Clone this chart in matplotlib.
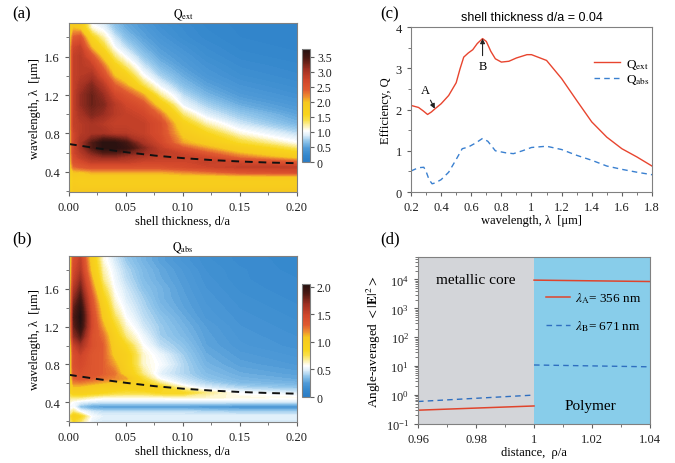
import numpy as np
import matplotlib
matplotlib.use('Agg')
import matplotlib.pyplot as plt
from matplotlib.colors import LinearSegmentedColormap, Normalize
from matplotlib.cm import ScalarMappable
from matplotlib.ticker import MultipleLocator, FuncFormatter

plt.rcParams['font.family'] = ['Liberation Serif', 'DejaVu Serif']
plt.rcParams['mathtext.fontset'] = 'stix'
plt.rcParams['font.size'] = 9
plt.rcParams['axes.edgecolor'] = '#808080'
plt.rcParams['xtick.color'] = '#606060'
plt.rcParams['ytick.color'] = '#606060'
plt.rcParams['xtick.labelcolor'] = '#202020'
plt.rcParams['ytick.labelcolor'] = '#202020'

# ---- maps (a), (b): values read on a coarse grid ----
d_nodes = [0.0, 0.004, 0.01, 0.02, 0.03, 0.04, 0.05, 0.065, 0.08, 0.10, 0.12, 0.15, 0.20]
lam_nodes = [0.18, 0.25, 0.30, 0.35, 0.40, 0.45, 0.50, 0.55, 0.60, 0.65, 0.70, 0.80,
             0.90, 1.00, 1.10, 1.20, 1.30, 1.40, 1.50, 1.60, 1.70, 1.80, 1.90, 2.00]

qext_map = [
    [1.6, 2.0, 2.0, 2.0, 2.0, 2.0, 2.0, 2.0, 2.0, 2.0, 2.0, 2.0, 2.0],
    [1.5, 1.9, 1.85, 1.85, 1.85, 1.85, 1.85, 1.85, 1.85, 1.85, 1.85, 1.85, 1.85],
    [1.4, 1.85, 1.8, 1.8, 1.8, 1.8, 1.8, 1.8, 1.8, 1.8, 1.8, 1.8, 1.8],
    [1.5, 1.9, 1.85, 1.9, 1.9, 1.9, 1.9, 1.9, 1.9, 1.9, 1.9, 1.95, 1.95],
    [1.6, 2.0, 2.0, 2.1, 2.1, 2.1, 2.1, 2.1, 2.1, 2.2, 2.3, 2.5, 2.6],
    [1.7, 2.3, 2.4, 2.5, 2.5, 2.5, 2.5, 2.5, 2.5, 2.6, 2.7, 2.8, 2.8],
    [1.7, 2.5, 2.6, 2.8, 2.8, 2.8, 2.8, 2.7, 2.7, 2.7, 2.8, 2.7, 2.4],
    [1.7, 2.6, 2.8, 3.0, 3.1, 3.1, 3.0, 2.9, 2.8, 2.8, 2.7, 2.3, 1.9],
    [1.7, 2.7, 2.9, 3.2, 3.4, 3.4, 3.3, 3.1, 2.9, 2.7, 2.4, 2.0, 1.6],
    [1.7, 2.7, 3.0, 3.4, 3.7, 3.7, 3.6, 3.2, 2.8, 2.4, 2.1, 1.8, 1.3],
    [1.7, 2.7, 3.0, 3.4, 3.7, 3.7, 3.5, 3.0, 2.7, 2.1, 1.9, 1.5, 1.05],
    [1.7, 2.7, 2.9, 3.0, 3.0, 2.9, 2.9, 2.8, 2.6, 1.9, 1.6, 1.1, 0.8],
    [1.7, 2.8, 2.9, 3.0, 2.9, 2.8, 2.8, 2.8, 2.6, 1.7, 1.2, 0.85, 0.6],
    [1.7, 2.8, 3.0, 3.2, 3.1, 2.9, 2.8, 2.7, 2.3, 1.3, 0.9, 0.7, 0.5],
    [1.7, 2.8, 3.1, 3.3, 3.2, 2.9, 2.7, 2.5, 1.8, 0.95, 0.75, 0.55, 0.42],
    [1.7, 2.8, 3.1, 3.3, 3.1, 2.7, 2.5, 2.1, 1.25, 0.8, 0.6, 0.45, 0.35],
    [1.7, 2.8, 3.0, 3.2, 2.9, 2.4, 2.1, 1.4, 0.95, 0.65, 0.5, 0.38, 0.3],
    [1.7, 2.8, 2.9, 3.0, 2.6, 2.0, 1.7, 1.05, 0.75, 0.55, 0.42, 0.32, 0.26],
    [1.7, 2.8, 2.9, 2.8, 2.3, 1.7, 1.3, 0.85, 0.62, 0.47, 0.37, 0.28, 0.23],
    [1.7, 2.8, 2.9, 2.5, 1.9, 1.3, 1.0, 0.7, 0.52, 0.42, 0.32, 0.24, 0.2],
    [1.7, 2.7, 2.8, 2.0, 1.5, 1.0, 0.8, 0.58, 0.46, 0.36, 0.28, 0.21, 0.18],
    [1.7, 2.4, 2.5, 1.6, 1.2, 0.85, 0.65, 0.5, 0.4, 0.3, 0.24, 0.19, 0.17],
    [1.7, 2.0, 1.9, 1.1, 0.95, 0.7, 0.55, 0.45, 0.35, 0.28, 0.22, 0.18, 0.16],
    [1.7, 1.8, 1.8, 0.9, 0.8, 0.6, 0.5, 0.4, 0.3, 0.25, 0.2, 0.18, 0.15],
]

qabs_map = [
    [0.6, 0.8, 0.7, 0.5, 0.47, 0.47, 0.47, 0.47, 0.47, 0.47, 0.47, 0.47, 0.47],
    [0.7, 0.95, 0.85, 0.55, 0.5, 0.5, 0.5, 0.5, 0.5, 0.5, 0.5, 0.5, 0.5],
    [0.6, 0.7, 0.55, 0.47, 0.44, 0.44, 0.44, 0.44, 0.44, 0.44, 0.42, 0.4, 0.4],
    [0.55, 0.55, 0.36, 0.27, 0.25, 0.25, 0.25, 0.25, 0.25, 0.25, 0.23, 0.21, 0.21],
    [0.6, 0.55, 0.5, 0.47, 0.46, 0.46, 0.46, 0.46, 0.46, 0.46, 0.46, 0.46, 0.46],
    [0.7, 0.7, 0.7, 0.64, 0.6, 0.6, 0.6, 0.6, 0.6, 0.62, 0.62, 0.6, 0.58],
    [0.8, 0.95, 0.95, 0.9, 0.85, 0.8, 0.78, 0.78, 0.85, 0.85, 0.7, 0.55, 0.48],
    [0.8, 1.05, 1.05, 1.0, 0.95, 0.95, 0.9, 0.95, 0.9, 0.65, 0.5, 0.42, 0.38],
    [0.8, 1.2, 1.2, 1.15, 1.1, 1.05, 1.0, 0.9, 0.7, 0.5, 0.42, 0.35, 0.32],
    [0.8, 1.3, 1.35, 1.3, 1.25, 1.2, 1.15, 0.8, 0.55, 0.45, 0.37, 0.32, 0.29],
    [0.8, 1.35, 1.4, 1.35, 1.3, 1.25, 1.0, 0.7, 0.5, 0.42, 0.35, 0.3, 0.27],
    [0.8, 1.4, 1.45, 1.35, 1.3, 1.15, 0.95, 0.62, 0.55, 0.42, 0.32, 0.27, 0.24],
    [0.8, 1.4, 1.5, 1.35, 1.3, 1.05, 0.95, 0.62, 0.52, 0.4, 0.3, 0.25, 0.22],
    [0.8, 1.5, 1.65, 1.4, 1.3, 1.0, 0.85, 0.57, 0.44, 0.37, 0.28, 0.23, 0.2],
    [0.8, 1.7, 1.85, 1.4, 1.25, 0.95, 0.7, 0.52, 0.4, 0.34, 0.27, 0.22, 0.19],
    [0.8, 1.8, 2.0, 1.45, 1.15, 0.85, 0.62, 0.47, 0.39, 0.32, 0.26, 0.21, 0.18],
    [0.8, 1.85, 2.05, 1.45, 1.05, 0.75, 0.56, 0.44, 0.37, 0.3, 0.24, 0.2, 0.17],
    [0.8, 1.8, 2.0, 1.4, 1.0, 0.66, 0.52, 0.42, 0.34, 0.28, 0.23, 0.19, 0.16],
    [0.8, 1.7, 1.9, 1.35, 0.9, 0.6, 0.49, 0.4, 0.32, 0.27, 0.22, 0.18, 0.15],
    [0.8, 1.6, 1.8, 1.25, 0.8, 0.56, 0.47, 0.37, 0.32, 0.26, 0.21, 0.17, 0.14],
    [0.8, 1.5, 1.7, 1.15, 0.7, 0.53, 0.44, 0.35, 0.3, 0.25, 0.2, 0.16, 0.14],
    [0.8, 1.45, 1.6, 1.05, 0.65, 0.51, 0.42, 0.34, 0.29, 0.24, 0.19, 0.16, 0.13],
    [0.8, 1.4, 1.55, 1.0, 0.6, 0.48, 0.39, 0.32, 0.27, 0.22, 0.18, 0.15, 0.13],
    [0.8, 1.4, 1.5, 0.95, 0.6, 0.46, 0.37, 0.32, 0.27, 0.22, 0.17, 0.15, 0.12],
]

# dashed resonance line in (a) and (b)
dash_d = [0.0, 0.025, 0.05, 0.075, 0.10, 0.125, 0.15, 0.175, 0.20]
dash_lam = [0.69, 0.645, 0.605, 0.57, 0.543, 0.523, 0.508, 0.497, 0.49]

# ---- panel (c) ----
lam_ext = [0.2, 0.25, 0.28, 0.31, 0.335, 0.36, 0.4, 0.45, 0.5, 0.525, 0.55, 0.58, 0.61,
           0.64, 0.675, 0.7, 0.73, 0.76, 0.8, 0.85, 0.9, 0.97, 1.0, 1.1, 1.2, 1.3, 1.4,
           1.5, 1.6, 1.7, 1.8]
q_ext = [2.10, 2.05, 1.97, 1.88, 1.94, 2.02, 2.14, 2.34, 2.65, 2.98, 3.27, 3.37, 3.45,
         3.60, 3.72, 3.65, 3.41, 3.23, 3.15, 3.17, 3.25, 3.33, 3.33, 3.19, 2.75, 2.22, 1.70,
         1.33, 1.05, 0.85, 0.63]
lam_abs = [0.2, 0.25, 0.285, 0.3, 0.32, 0.34, 0.36, 0.4, 0.45, 0.5, 0.54, 0.58, 0.63,
           0.675, 0.71, 0.76, 0.83, 0.88, 0.94, 1.0, 1.1, 1.2, 1.3, 1.4, 1.5, 1.6, 1.7, 1.8]
q_abs = [0.51, 0.59, 0.60, 0.50, 0.30, 0.20, 0.22, 0.30, 0.48, 0.79, 1.05, 1.09, 1.19,
         1.30, 1.23, 1.00, 0.95, 0.93, 1.00, 1.08, 1.11, 1.03, 0.89, 0.77, 0.63, 0.55, 0.48, 0.42]

# ---- panel (d) ----
rho_core = [0.96, 1.0]
rho_poly = [1.0, 1.04]
ea_core = [0.30, 0.42]
ea_poly = [9500, 8500]
eb_core = [0.60, 1.0]
eb_poly = [11.0, 9.5]

cmap = LinearSegmentedColormap.from_list('qmap', [
    (0.0, '#2a7cc6'), (0.06, '#3588cd'), (0.12, '#4f9ad7'), (0.18, '#8ec4ea'),
    (0.235, '#ddeef9'), (0.275, '#ffffff'), (0.31, '#fdf4c0'), (0.37, '#f9e04a'),
    (0.42, '#f8d51c'), (0.53, '#f6c81e'), (0.58, '#ee8c30'), (0.64, '#e05a30'),
    (0.72, '#d2472b'), (0.82, '#a03022'), (0.92, '#4a1812'), (1.0, '#241010')])

fig = plt.figure(figsize=(6.75, 4.64), dpi=100)

D, L = np.meshgrid(d_nodes, lam_nodes)


def heat_panel(rect, crect, z, vmax, cticks, ctlabels, title):
    ax = fig.add_axes(rect)
    levels = np.linspace(0, vmax + 0.02, 120)
    ax.contourf(D, L, np.array(z), levels=levels, cmap=cmap, vmin=0, vmax=vmax,
                antialiased=False)
    ax.plot(dash_d, dash_lam, color='#111111', lw=1.4, ls=(0, (4, 3)))
    ax.set_xlim(0, 0.2)
    ax.set_ylim(0.19, 1.95)
    ax.set_xticks([0, 0.05, 0.1, 0.15, 0.2])
    ax.xaxis.set_major_formatter(FuncFormatter(lambda v, p: '%.2f' % v))
    ax.xaxis.set_minor_locator(MultipleLocator(0.025))
    ax.set_yticks([0.4, 0.8, 1.2, 1.6])
    ax.yaxis.set_minor_locator(MultipleLocator(0.2))
    ax.tick_params(which='major', length=3, labelsize=9)
    ax.tick_params(which='minor', length=2)
    ax.set_xlabel('shell thickness, d/a', fontsize=9, labelpad=1)
    ax.set_ylabel('wavelength, λ  [μm]', fontsize=9, labelpad=2)
    ax.set_title(title, fontsize=8.5, pad=4)
    cax = fig.add_axes(crect)
    sm = ScalarMappable(norm=Normalize(0, vmax), cmap=cmap)
    cb = fig.colorbar(sm, cax=cax, ticks=cticks)
    cb.ax.set_yticklabels(ctlabels)
    cb.ax.tick_params(length=3, labelsize=8.5, pad=2)
    cb.outline.set_edgecolor('#808080')
    return ax


heat_panel([0.1022, 0.584, 0.3378, 0.3642], [0.4474, 0.6487, 0.0119, 0.2435],
           qext_map, 3.75, [0, 0.5, 1, 1.5, 2, 2.5, 3, 3.5],
           ['0', '0.5', '1.0', '1.5', '2.0', '2.5', '3.0', '3.5'],
           r'$\mathrm{Q}_{\mathrm{ext}}$')
heat_panel([0.1022, 0.0884, 0.3378, 0.3578], [0.4474, 0.1422, 0.0119, 0.2435],
           qabs_map, 2.05, [0, 0.5, 1, 1.5, 2],
           ['0', '0.5', '1.0', '1.5', '2.0'],
           r'$\mathrm{Q}_{\mathrm{abs}}$')

# ---- (c) ----
axc = fig.add_axes([0.6089, 0.584, 0.357, 0.3556])
axc.plot(lam_ext, q_ext, color='#e8452f', lw=1.0, label=r'Q$_{\rm ext}$')
axc.plot(lam_abs, q_abs, color='#3a80d0', lw=1.0, ls=(0, (4, 3)), label=r'Q$_{\rm abs}$')
axc.set_xlim(0.2, 1.8)
axc.set_ylim(0, 4)
axc.xaxis.set_major_locator(MultipleLocator(0.2))
axc.xaxis.set_minor_locator(MultipleLocator(0.1))
axc.xaxis.set_major_formatter(FuncFormatter(lambda v, p: '%g' % round(v, 2)))
axc.yaxis.set_major_locator(MultipleLocator(1))
axc.yaxis.set_minor_locator(MultipleLocator(0.5))
axc.tick_params(which='major', length=3, labelsize=9)
axc.tick_params(which='minor', length=2)
axc.set_xlabel('wavelength, λ  [μm]', fontsize=9, labelpad=1)
axc.set_ylabel('Efficiency, Q', fontsize=9, labelpad=3)
axc.set_title('shell thickness d/a = 0.04', fontsize=9, family=['Liberation Sans', 'DejaVu Sans'], pad=5)
axc.annotate('A', xy=(0.358, 2.02), xytext=(0.295, 2.47), ha='center', va='center', fontsize=9,
             arrowprops=dict(arrowstyle='-|>', color='#222222', lw=0.8, mutation_scale=7,
                             shrinkA=1, shrinkB=0))
axc.annotate('B', xy=(0.675, 3.72), xytext=(0.675, 3.06), ha='center', va='center', fontsize=9,
             arrowprops=dict(arrowstyle='-|>', color='#222222', lw=0.8, mutation_scale=7,
                             shrinkA=1, shrinkB=0))
axc.legend(loc='upper left', bbox_to_anchor=(0.71, 0.89), frameon=False, fontsize=9.5,
           handlelength=2.0, labelspacing=0.1, handletextpad=0.4)

# ---- (d) ----
axd = fig.add_axes([0.6193, 0.0841, 0.3437, 0.3599])
axd.axvspan(0.96, 1.0, color='#d3d5d9', lw=0)
axd.axvspan(1.0, 1.04, color='#88cdea', lw=0)
axd.plot(rho_core, ea_core, color='#e0442c', lw=1.1)
axd.plot(rho_poly, ea_poly, color='#e0442c', lw=1.1, label=r'$\lambda_{\rm A}$= 356 nm')
axd.plot(rho_core, eb_core, color='#2f6fc0', lw=1.0, ls=(0, (4, 3)))
axd.plot(rho_poly, eb_poly, color='#2f6fc0', lw=1.0, ls=(0, (4, 3)), label=r'$\lambda_{\rm B}$= 671 nm')
axd.set_yscale('log')
axd.set_xlim(0.96, 1.04)
axd.set_ylim(0.1, 6e4)
axd.set_xticks([0.96, 0.98, 1.0, 1.02, 1.04])
axd.xaxis.set_minor_locator(MultipleLocator(0.01))
axd.xaxis.set_major_formatter(FuncFormatter(lambda v, p: '%g' % round(v, 2)))
axd.tick_params(which='major', length=3, labelsize=9)
axd.tick_params(which='minor', length=2)
axd.set_xlabel('distance,  ρ/a', fontsize=9, labelpad=1)
axd.set_ylabel(r'Angle-averaged $<|\mathbf{E}|^2>$', fontsize=9.5, labelpad=2)
axd.text(0.98, 1.0e4, 'metallic core', ha='center', va='center', fontsize=11)
axd.text(1.0195, 0.45, 'Polymer', ha='center', va='center', fontsize=11)
axd.legend(loc='upper left', bbox_to_anchor=(0.5, 0.87), frameon=False, fontsize=9.5,
           handlelength=1.8, labelspacing=1.0, handletextpad=0.4)

fig.text(12 / 675, 1 - 6 / 464, '(a)', fontsize=12, va='top', ha='left')
fig.text(12 / 675, 1 - 231 / 464, '(b)', fontsize=12, va='top', ha='left')
fig.text(380 / 675, 1 - 6 / 464, '(c)', fontsize=12, va='top', ha='left')
fig.text(380 / 675, 1 - 231 / 464, '(d)', fontsize=12, va='top', ha='left')

plt.savefig('out.png', dpi=100)
plt.close()
